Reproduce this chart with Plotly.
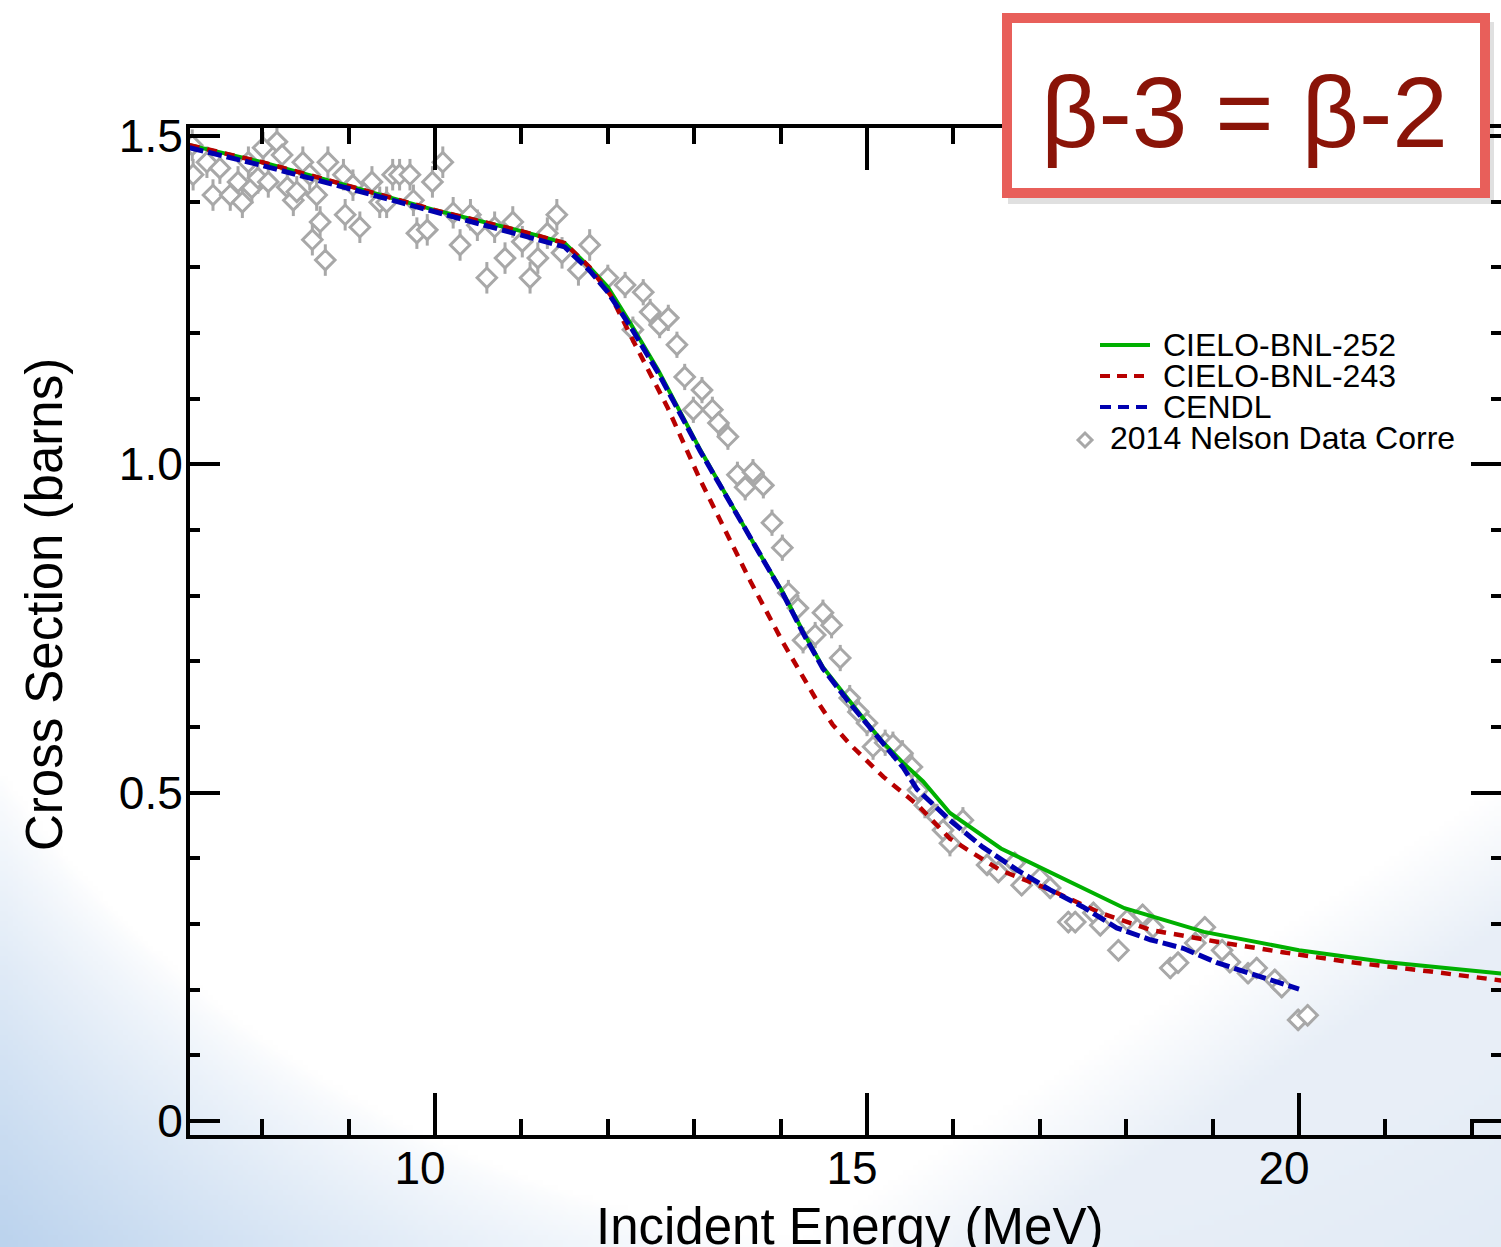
import base64
import struct
import zlib

import numpy as np
import plotly.graph_objects as go

# ---------------------------------------------------------------- data
# Evaluated cross sections (barns) vs incident neutron energy (MeV)
e_bnl252 = [7.16, 8.0, 9.0, 10.0, 11.0, 11.5, 11.79, 12.0, 12.26, 12.58, 13.07,
            13.73, 14.03, 14.26, 14.49, 14.77, 15.0, 15.19, 15.42, 15.65, 15.96,
            16.55, 17.98, 18.9, 20.0, 21.0, 22.4]
xs_bnl252 = [1.486, 1.46, 1.424, 1.387, 1.355, 1.337, 1.30, 1.27, 1.215, 1.144, 1.022,
             0.870, 0.804, 0.745, 0.691, 0.643, 0.606, 0.576, 0.545, 0.517, 0.469,
             0.415, 0.324, 0.288, 0.260, 0.242, 0.224]

e_bnl243 = [7.16, 8.0, 9.0, 10.0, 11.0, 11.5, 11.79, 12.03, 12.29, 12.69, 13.07,
            13.45, 13.65, 14.03, 14.42, 14.60, 14.80, 15.19, 15.58, 15.96, 16.54, 17.12,
            17.70, 18.28, 19.05, 19.81, 20.59, 21.5, 22.4]
xs_bnl243 = [1.486, 1.46, 1.424, 1.387, 1.355, 1.337, 1.30, 1.258, 1.189, 1.087, 0.976,
             0.874, 0.822, 0.728, 0.640, 0.604, 0.574, 0.524, 0.482, 0.430, 0.382, 0.352,
             0.317, 0.291, 0.273, 0.257, 0.242, 0.228, 0.213]

e_cendl = [7.16, 8.0, 9.0, 10.0, 11.0, 11.5, 11.79, 12.0, 12.26, 12.58, 13.07,
           13.73, 14.03, 14.26, 14.49, 14.77, 15.0, 15.19, 15.42, 15.58, 15.96,
           16.34, 16.74, 17.12, 17.5, 17.89, 18.28, 18.66, 19.05, 19.43, 19.81, 20.0]
xs_cendl = [1.482, 1.455, 1.420, 1.385, 1.350, 1.331, 1.295, 1.262, 1.210, 1.140, 1.020,
            0.868, 0.802, 0.743, 0.689, 0.641, 0.604, 0.572, 0.538, 0.505, 0.458,
            0.417, 0.382, 0.352, 0.326, 0.294, 0.276, 0.263, 0.241, 0.225, 0.210, 0.201]

# 2014 Nelson measurement
nelson_e = [7.19, 7.20, 7.36, 7.43, 7.51, 7.63, 7.72, 7.77, 7.84, 7.88,
            7.95, 8.01, 8.07, 8.17, 8.23, 8.29, 8.36, 8.40, 8.47, 8.55,
            8.58, 8.63, 8.67, 8.73, 8.76, 8.94, 8.96, 9.05, 9.13, 9.27,
            9.36, 9.44, 9.51, 9.59, 9.71, 9.75, 9.79, 9.91, 9.97, 10.09,
            10.21, 10.29, 10.41, 10.49, 10.60, 10.69, 10.81, 10.90, 11.01, 11.10,
            11.19, 11.30, 11.41, 11.47, 11.66, 11.79, 12.00, 12.20, 12.29, 12.41,
            12.49, 12.60, 12.70, 12.80, 12.89, 12.99, 13.09, 13.21, 13.28, 13.39,
            13.50, 13.59, 13.68, 13.80, 13.90, 14.02, 14.09, 14.20, 14.26, 14.40,
            14.49, 14.59, 14.69, 14.80, 14.90, 15.00, 15.07, 15.21, 15.30, 15.41,
            15.52, 15.59, 15.67, 15.81, 15.88, 15.96, 16.11, 16.39, 16.52, 16.71,
            16.79, 17.00, 17.12, 17.33, 17.41, 17.62, 17.70, 17.91, 18.01, 18.19,
            18.31, 18.51, 18.60, 18.80, 18.91, 19.11, 19.20, 19.41, 19.51, 19.72,
            19.80, 19.99, 20.10]
nelson_xs = [1.486, 1.441, 1.460, 1.410, 1.451, 1.410, 1.430, 1.399, 1.460, 1.421,
             1.436, 1.482, 1.430, 1.491, 1.471, 1.422, 1.402, 1.415, 1.460, 1.441,
             1.342, 1.410, 1.369, 1.311, 1.460, 1.441, 1.380, 1.425, 1.361, 1.430,
             1.399, 1.399, 1.441, 1.441, 1.441, 1.402, 1.352, 1.357, 1.430, 1.460,
             1.383, 1.334, 1.380, 1.364, 1.284, 1.361, 1.314, 1.369, 1.339, 1.284,
             1.314, 1.352, 1.380, 1.322, 1.296, 1.334, 1.284, 1.273, 1.205, 1.262,
             1.232, 1.212, 1.223, 1.182, 1.133, 1.083, 1.113, 1.083, 1.063, 1.042,
             0.984, 0.965, 0.988, 0.968, 0.911, 0.873, 0.804, 0.781, 0.732, 0.740,
             0.774, 0.755, 0.705, 0.644, 0.623, 0.606, 0.570, 0.576, 0.573, 0.560,
             0.539, 0.504, 0.481, 0.463, 0.443, 0.423, 0.458, 0.390, 0.379, 0.393,
             0.359, 0.370, 0.355, 0.303, 0.303, 0.317, 0.298, 0.260, 0.306, 0.314,
             0.295, 0.233, 0.241, 0.271, 0.295, 0.260, 0.242, 0.225, 0.233, 0.215,
             0.204, 0.154, 0.161]
nelson_err = [0.024, 0.024, 0.024, 0.024, 0.024, 0.024, 0.024, 0.024, 0.024, 0.024,
              0.024, 0.024, 0.024, 0.024, 0.024, 0.024, 0.024, 0.024, 0.024, 0.024,
              0.024, 0.024, 0.024, 0.024, 0.024, 0.024, 0.024, 0.024, 0.024, 0.024,
              0.024, 0.024, 0.024, 0.024, 0.024, 0.024, 0.024, 0.024, 0.024, 0.024,
              0.024, 0.024, 0.024, 0.024, 0.024, 0.024, 0.024, 0.024, 0.024, 0.024,
              0.024, 0.024, 0.024, 0.024, 0.024, 0.024, 0.020, 0.020, 0.020, 0.020,
              0.020, 0.020, 0.020, 0.020, 0.020, 0.020, 0.020, 0.020, 0.020, 0.020,
              0.020, 0.020, 0.020, 0.020, 0.020, 0.020, 0.020, 0.020, 0.020, 0.020,
              0.020, 0.020, 0.020, 0.020, 0.020, 0.020, 0.020, 0.020, 0.020, 0.020,
              0.020, 0.020, 0.020, 0.020, 0.020, 0.020, 0.020, 0.016, 0.016, 0.016,
              0.016, 0.016, 0.016, 0.016, 0.016, 0.016, 0.016, 0.016, 0.016, 0.016,
              0.016, 0.016, 0.016, 0.016, 0.016, 0.016, 0.016, 0.016, 0.016, 0.016,
              0.016, 0.016, 0.016]

x_ticks = [10, 15, 20]
x_ticktext = ["10", "15", "20"]
y_ticks = [0, 0.5, 1.0, 1.5]
y_ticktext = ["0", "0.5", "1.0", "1.5"]

# ---------------------------------------------------------------- geometry
W, H = 1501, 1247
ML, MR, MT, MB = 190, 0, 128, 112
PW, PH = W - ML - MR, H - MT - MB

FONT = "Liberation Sans, Arial, Helvetica, sans-serif"
GREEN = "#00b000"
RED = "#b80000"
BLUE = "#0000b0"
GRAY = "#a8a8a8"


def px_x(px):
    return (px - ML) / PW


def px_y(py):
    return (H - MB - py) / PH


# ---------------------------------------------------------------- backdrop
def backdrop_png(w=300, h=250):
    xs = (np.arange(w) + 0.5) * W / w
    ys = (np.arange(h) + 0.5) * H / h
    X, Y = np.meshgrid(xs, ys)
    img = np.ones((h, w, 3)) * 255.0
    # blue sweep in the lower-left corner
    d = np.hypot(X - 900, Y - 150)
    f1 = np.clip((d - 1095) / 330, 0, 1) ** 0.8
    blue = np.array([186, 210, 237], dtype=float)
    img = img * (1 - f1[..., None]) + blue * f1[..., None]
    # pale tint in the lower-right corner
    yl = 790 + (1501 - X) * 0.648
    f2 = np.clip((Y - yl) / 140, 0, 1) * 0.85
    pale = np.array([228, 236, 246], dtype=float)
    img = img * (1 - f2[..., None]) + pale * f2[..., None]
    arr = np.clip(img, 0, 255).astype(np.uint8)
    raw = b"".join(b"\x00" + arr[i].tobytes() for i in range(h))

    def chunk(tag, data):
        body = tag + data
        return struct.pack(">I", len(data)) + body + struct.pack(">I", zlib.crc32(body) & 0xFFFFFFFF)

    png = (b"\x89PNG\r\n\x1a\n"
           + chunk(b"IHDR", struct.pack(">IIBBBBB", w, h, 8, 2, 0, 0, 0))
           + chunk(b"IDAT", zlib.compress(raw, 9))
           + chunk(b"IEND", b""))
    return "data:image/png;base64," + base64.b64encode(png).decode()


# ---------------------------------------------------------------- traces
fig = go.Figure()

fig.add_trace(go.Scatter(
    x=nelson_e, y=nelson_xs, mode="markers", name="2014 Nelson Data Corre",
    marker=dict(symbol="diamond", size=15, color="white",
                line=dict(color=GRAY, width=3)),
    error_y=dict(type="data", array=nelson_err, visible=True,
                 color=GRAY, thickness=3, width=0),
    showlegend=False,
))
fig.add_trace(go.Scatter(
    x=e_bnl252, y=xs_bnl252, mode="lines", name="CIELO-BNL-252",
    line=dict(color=GREEN, width=4), showlegend=False,
))
fig.add_trace(go.Scatter(
    x=e_bnl243, y=xs_bnl243, mode="lines", name="CIELO-BNL-243",
    line=dict(color=RED, width=4.5, dash="10px,8px"), showlegend=False,
))
fig.add_trace(go.Scatter(
    x=e_cendl, y=xs_cendl, mode="lines", name="CENDL",
    line=dict(color=BLUE, width=5, dash="14px,5px"), showlegend=False,
))

# ---------------------------------------------------------------- decorations
shapes = []
annotations = []

# legend drawn in the plot area
legend_rows = [
    ("CIELO-BNL-252", GREEN, "solid", 345),
    ("CIELO-BNL-243", RED, "10px,7px", 376),
    ("CENDL", BLUE, "11px,7px", 407),
]
for label, color, dash, py in legend_rows:
    shapes.append(dict(type="line", xref="paper", yref="paper",
                       x0=px_x(1100), x1=px_x(1150), y0=px_y(py), y1=px_y(py),
                       line=dict(color=color, width=4, dash=dash)))
    annotations.append(dict(text=label, xref="paper", yref="paper",
                            x=px_x(1161), y=px_y(py), xanchor="left", yanchor="middle",
                            showarrow=False, font=dict(family=FONT, size=32, color="black")))
cx, cy, r = 1085, 440, 7
shapes.append(dict(type="path", xref="paper", yref="paper",
                   path=(f"M {px_x(cx - r)} {px_y(cy)} L {px_x(cx)} {px_y(cy - r)} "
                         f"L {px_x(cx + r)} {px_y(cy)} L {px_x(cx)} {px_y(cy + r)} Z"),
                   line=dict(color=GRAY, width=3), fillcolor="white"))
annotations.append(dict(text="2014 Nelson Data Corre", xref="paper", yref="paper",
                        x=px_x(1108), y=px_y(438), xanchor="left", yanchor="middle",
                        showarrow=False, font=dict(family=FONT, size=32, color="black")))

# boxed note in the top-right corner
shapes.append(dict(type="rect", xref="paper", yref="paper",
                   x0=px_x(1008), x1=px_x(1494), y0=px_y(22), y1=px_y(204),
                   line=dict(width=0), fillcolor="rgba(0,0,0,0.12)", layer="above"))
shapes.append(dict(type="rect", xref="paper", yref="paper",
                   x0=px_x(1007), x1=px_x(1485), y0=px_y(18), y1=px_y(193),
                   line=dict(color="#e85f5a", width=10), fillcolor="white", layer="above"))
annotations.append(dict(text="β-3 = β-2", xref="paper", yref="paper",
                        x=px_x(1244), y=px_y(112), xanchor="center", yanchor="middle",
                        showarrow=False, font=dict(family=FONT, size=100, color="#8a1408")))

# axis titles
annotations.append(dict(text="Incident Energy (MeV)", xref="paper", yref="paper",
                        x=px_x(849), y=px_y(1226), xanchor="center", yanchor="middle",
                        showarrow=False, font=dict(family=FONT, size=51, color="black")))
annotations.append(dict(text="Cross Section (barns)", xref="paper", yref="paper",
                        x=px_x(44), y=px_y(605), xanchor="center", yanchor="middle",
                        textangle=-90, showarrow=False,
                        font=dict(family=FONT, size=51, color="black")))

# ---------------------------------------------------------------- layout
axis_common = dict(
    showline=True, linecolor="black", linewidth=4, mirror="ticks",
    ticks="inside", tickwidth=4, tickcolor="black",
    showgrid=False, zeroline=False,
    tickfont=dict(family=FONT, size=46, color="black"),
)

fig.update_layout(
    width=W, height=H,
    margin=dict(l=ML, r=MR, t=MT, b=MB, autoexpand=False),
    paper_bgcolor="white",
    plot_bgcolor="rgba(0,0,0,0)",
    showlegend=False,
    xaxis=dict(
        range=[7.164, 22.338], tickmode="array", tickvals=x_ticks, ticktext=x_ticktext,
        ticklen=42, ticklabelshift=-15, ticklabelstandoff=-10,
        minor=dict(ticks="inside", ticklen=16, tickwidth=4, tickcolor="black",
                   dtick=1, tick0=0, showgrid=False),
        **axis_common,
    ),
    yaxis=dict(
        range=[-0.0213, 1.5121], tickmode="array", tickvals=y_ticks, ticktext=y_ticktext,
        ticklen=30, ticklabelstandoff=-6,
        minor=dict(ticks="inside", ticklen=10, tickwidth=4, tickcolor="black",
                   dtick=0.1, tick0=0, showgrid=False),
        **axis_common,
    ),
    shapes=shapes,
    annotations=annotations,
    images=[dict(source=backdrop_png(), xref="paper", yref="paper",
                 x=-ML / PW, y=(H - MB) / PH, sizex=W / PW, sizey=H / PH,
                 xanchor="left", yanchor="top", sizing="stretch", layer="below")],
)

fig.write_html("out.html")
